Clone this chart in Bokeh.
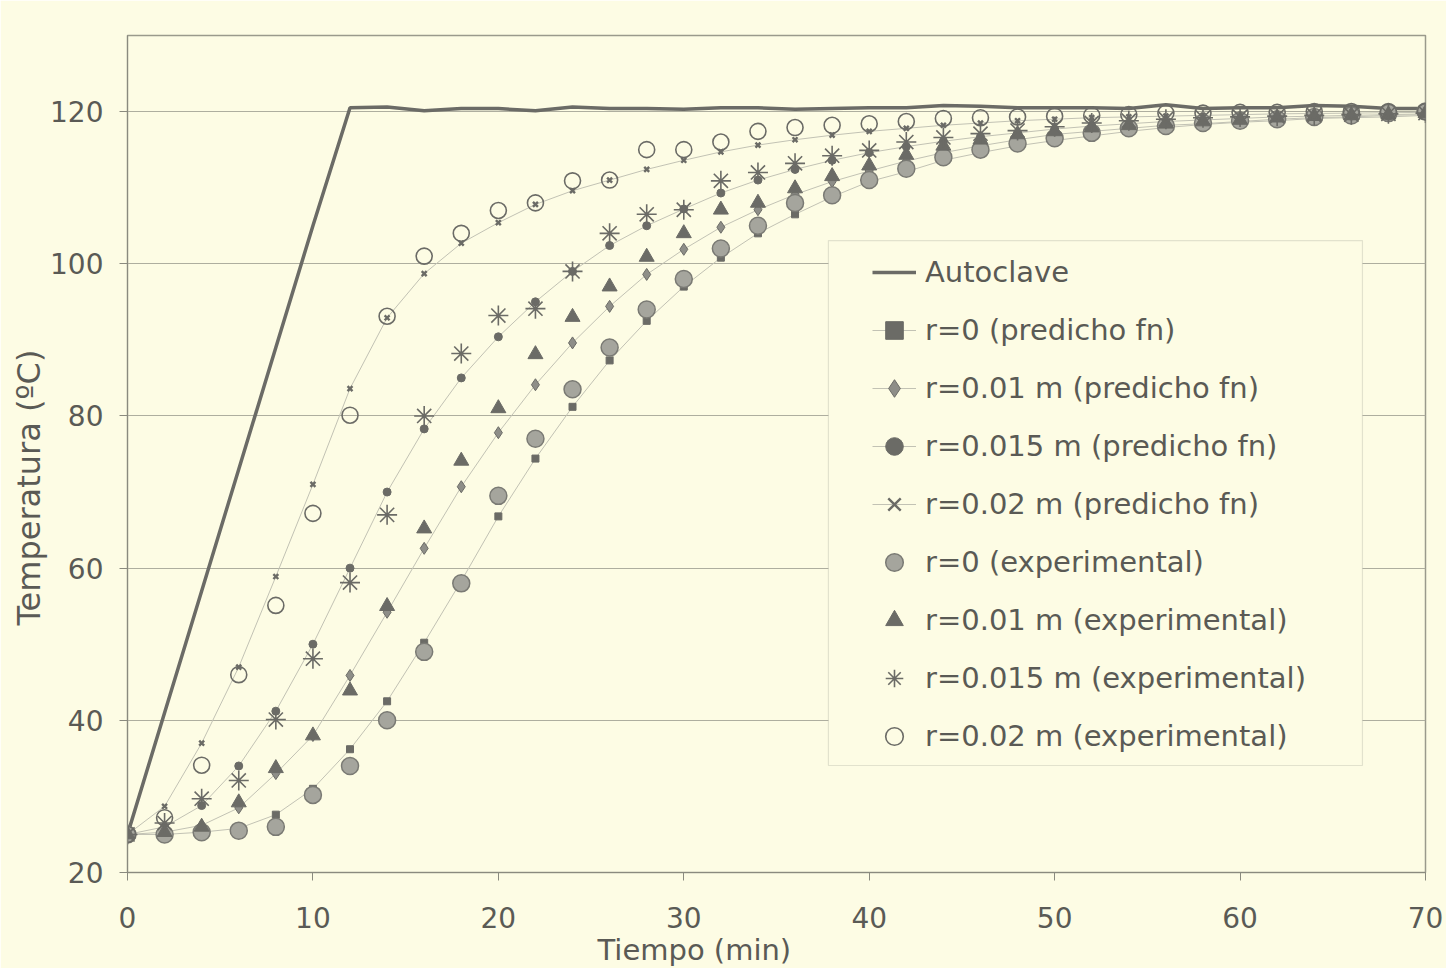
from bokeh.plotting import figure
from bokeh.models import (Legend, LegendItem, BoxAnnotation, Title,
                          FixedTicker, Range1d)
from bokeh.embed import file_html
from bokeh.resources import INLINE

# ---- data: temperature (ºC) vs time (min), sampled every 2 min ----
tiempo = list(range(0, 72, 2))

autoclave = [25, 41, 57, 73, 89, 105, 120.5, 120.6, 120.1, 120.4, 120.4, 120.1,
             120.6, 120.4, 120.4, 120.3, 120.5, 120.5, 120.3, 120.4, 120.5, 120.5,
             120.8, 120.7, 120.5, 120.5, 120.5, 120.4, 120.9, 120.4, 120.5, 120.5,
             120.8, 120.7, 120.4, 120.4]

pred_r0 = [25, 25, 25.3, 25.8, 27.6, 31, 36.2, 42.5, 50.2, 58.3, 66.8, 74.4,
           81.2, 87.3, 92.5, 97, 100.8, 104, 106.5, 108.8, 110.8, 112.1, 113.6, 114.6,
           115.5, 116.2, 116.8, 117.4, 117.9, 118.3, 118.6, 118.8, 119.1, 119.2, 119.3, 119.5]

pred_r001 = [25, 25.3, 26.2, 28.5, 33, 38, 45.9, 54.2, 62.6, 70.7, 77.8, 84.1,
             89.6, 94.4, 98.6, 101.9, 104.8, 107.1, 109.1, 110.8, 112.2, 113.5, 114.6, 115.5,
             116.3, 117, 117.4, 117.8, 118.2, 118.4, 118.7, 119, 119.2, 119.3, 119.5, 119.6]

pred_r0015 = [25, 26, 28.8, 34, 41.2, 50, 60, 70, 78.3, 85, 90.4, 95,
              99, 102.4, 105, 107.2, 109.3, 111, 112.4, 113.6, 114.6, 115.4, 116.1, 116.7,
              117.2, 117.7, 118.1, 118.4, 118.7, 118.9, 119.1, 119.3, 119.4, 119.5, 119.6, 119.7]

pred_r002 = [25, 28.7, 37, 47, 58.9, 71, 83.6, 92.9, 98.7, 102.7, 105.4, 107.8,
             109.6, 111, 112.4, 113.6, 114.7, 115.6, 116.3, 116.9, 117.4, 117.8, 118.2, 118.5,
             118.8, 119, 119.2, 119.3, 119.4, 119.5, 119.6, 119.7, 119.75, 119.8, 119.85, 119.9]

exp_r0 = [25, 25, 25.3, 25.5, 26, 30.2, 34, 40, 49, 58, 69.5, 77,
          83.5, 89, 94, 98, 102, 105, 108, 109, 111, 112.5, 114, 115,
          115.8, 116.5, 117.2, 117.8, 118.1, 118.5, 118.8, 119, 119.3, 119.5, 119.8, 120]

exp_r001 = [25, 25.3, 26, 29.2, 33.7, 38, 43.9, 55, 65.2, 74.1, 81, 88.1,
            93, 97, 100.9, 104, 107.1, 108, 109.9, 111.5, 112.9, 114.3, 115.5, 116.3,
            117, 117.4, 117.9, 118.2, 118.4, 118.7, 118.9, 119.2, 119.4, 119.5, 119.6, 119.8]

exp_r0015 = [25, 26.5, 29.7, 32.1, 40.1, 48.1, 58.1, 67, 80, 88.2, 93.2, 94.1,
             99, 104, 106.5, 107.1, 110.9, 112, 113.2, 114.2, 114.9, 116, 116.6, 117.1,
             117.5, 118, 118.5, 118.8, 119, 119.2, 119.3, 119.4, 119.5, 119.6, 119.7, 119.8]

exp_r002 = [25, 27.2, 34.1, 46, 55.1, 67.2, 80.1, 93.1, 101, 104, 107, 108,
            110.9, 111, 115, 115, 116, 117.4, 117.9, 118.2, 118.4, 118.7, 119.1, 119.2,
            119.3, 119.4, 119.5, 119.6, 119.8, 119.8, 119.9, 119.9, 120, 120, 120, 120]

x_ticks = [0, 10, 20, 30, 40, 50, 60, 70]
y_ticks = [20, 40, 60, 80, 100, 120]

# ---- styling ----
BG = "#fdfce4"
INK = "#5a5a55"
DARK = "#6b6b66"
GRID = "#aeae9f"
THIN = "#c2c2b4"
FONT = "DejaVu Sans"

p = figure(width=1446, height=968, output_backend="svg", toolbar_location=None,
           x_range=Range1d(0, 70), y_range=Range1d(20, 130),
           min_border_left=127, min_border_right=21,
           min_border_top=35, min_border_bottom=96)
p.background_fill_color = BG
p.border_fill_color = BG
p.outline_line_color = "#9a9a8c"
p.outline_line_width = 1.5

p.xgrid.visible = False
p.ygrid.ticker = FixedTicker(ticks=y_ticks)
p.ygrid.grid_line_color = GRID
p.ygrid.grid_line_width = 1.2

for ax in (p.xaxis[0], p.yaxis[0]):
    ax.axis_line_color = "#8a8a7e"
    ax.major_tick_line_color = "#8a8a7e"
    ax.major_tick_out = 8
    ax.major_tick_in = 0
    ax.minor_tick_line_color = None
    ax.major_label_text_font = FONT
    ax.major_label_text_font_size = "28px"
    ax.major_label_text_color = INK
p.xaxis[0].ticker = FixedTicker(ticks=x_ticks)
p.yaxis[0].ticker = FixedTicker(ticks=y_ticks)
p.xaxis[0].major_label_standoff = 26
p.yaxis[0].major_label_standoff = 16

# ---- series ----
r_auto = p.line(tiempo, autoclave, line_color=DARK, line_width=3.5)

def predicted(vals, marker, size, fill, line_w=1.0):
    ln = p.line(tiempo, vals, line_color=THIN, line_width=1)
    sc = p.scatter(tiempo, vals, marker=marker, size=size, fill_color=fill,
                   line_color=DARK, line_width=line_w)
    return [ln, sc]

r_p0 = predicted(pred_r0, "square", 7, DARK)
r_p001 = predicted(pred_r001, "diamond", 12, "#8e8e88")
r_p0015 = predicted(pred_r0015, "circle", 8, DARK)
r_p002 = predicted(pred_r002, "x", 7, DARK, line_w=2.4)

r_e0 = p.scatter(tiempo, exp_r0, marker="circle", size=17, fill_color="#a5a59d",
                 line_color="#7a7a74", line_width=1.5)
r_e001 = p.scatter(tiempo, exp_r001, marker="triangle", size=15, fill_color=DARK,
                   line_color=DARK, line_width=1)
r_e0015 = p.scatter(tiempo, exp_r0015, marker="asterisk", size=20, fill_color=None,
                    line_color=DARK, line_width=1.6)
r_e002 = p.scatter(tiempo, exp_r002, marker="circle", size=16, fill_color=None,
                   line_color=DARK, line_width=1.6)

# ---- legend: framed panel with the items placed inside ----
panel = BoxAnnotation(left=37.8, right=66.6, bottom=34.06, top=103.05,
                      fill_color=BG, fill_alpha=1.0,
                      line_color="#a6a698", line_width=1.2)
p.add_layout(panel)

items = [
    LegendItem(label="Autoclave", renderers=[r_auto]),
    LegendItem(label="r=0 (predicho fn)", renderers=r_p0),
    LegendItem(label="r=0.01 m (predicho fn)", renderers=r_p001),
    LegendItem(label="r=0.015 m (predicho fn)", renderers=r_p0015),
    LegendItem(label="r=0.02 m (predicho fn)", renderers=r_p002),
    LegendItem(label="r=0 (experimental)", renderers=[r_e0]),
    LegendItem(label="r=0.01 m (experimental)", renderers=[r_e001]),
    LegendItem(label="r=0.015 m (experimental)", renderers=[r_e0015]),
    LegendItem(label="r=0.02 m (experimental)", renderers=[r_e002]),
]
legend = Legend(items=items, location=(745, 107), padding=0, spacing=0,
                glyph_width=44, glyph_height=58, label_height=58,
                label_standoff=9, margin=0,
                label_text_font=FONT, label_text_font_size="29px",
                label_text_color=INK, border_line_alpha=0,
                background_fill_alpha=0)
p.add_layout(legend)

# ---- axis titles ----
p.add_layout(Title(text="Tiempo (min)", align="left", offset=470, standoff=0,
                   text_font=FONT, text_font_size="29px",
                   text_font_style="normal", text_color=INK), "below")
p.add_layout(Title(text="Temperatura (ºC)", align="left", offset=247, standoff=0,
                   text_font=FONT, text_font_size="32px",
                   text_font_style="normal", text_color=INK), "left")

open("out.html", "w").write(file_html(p, INLINE))
